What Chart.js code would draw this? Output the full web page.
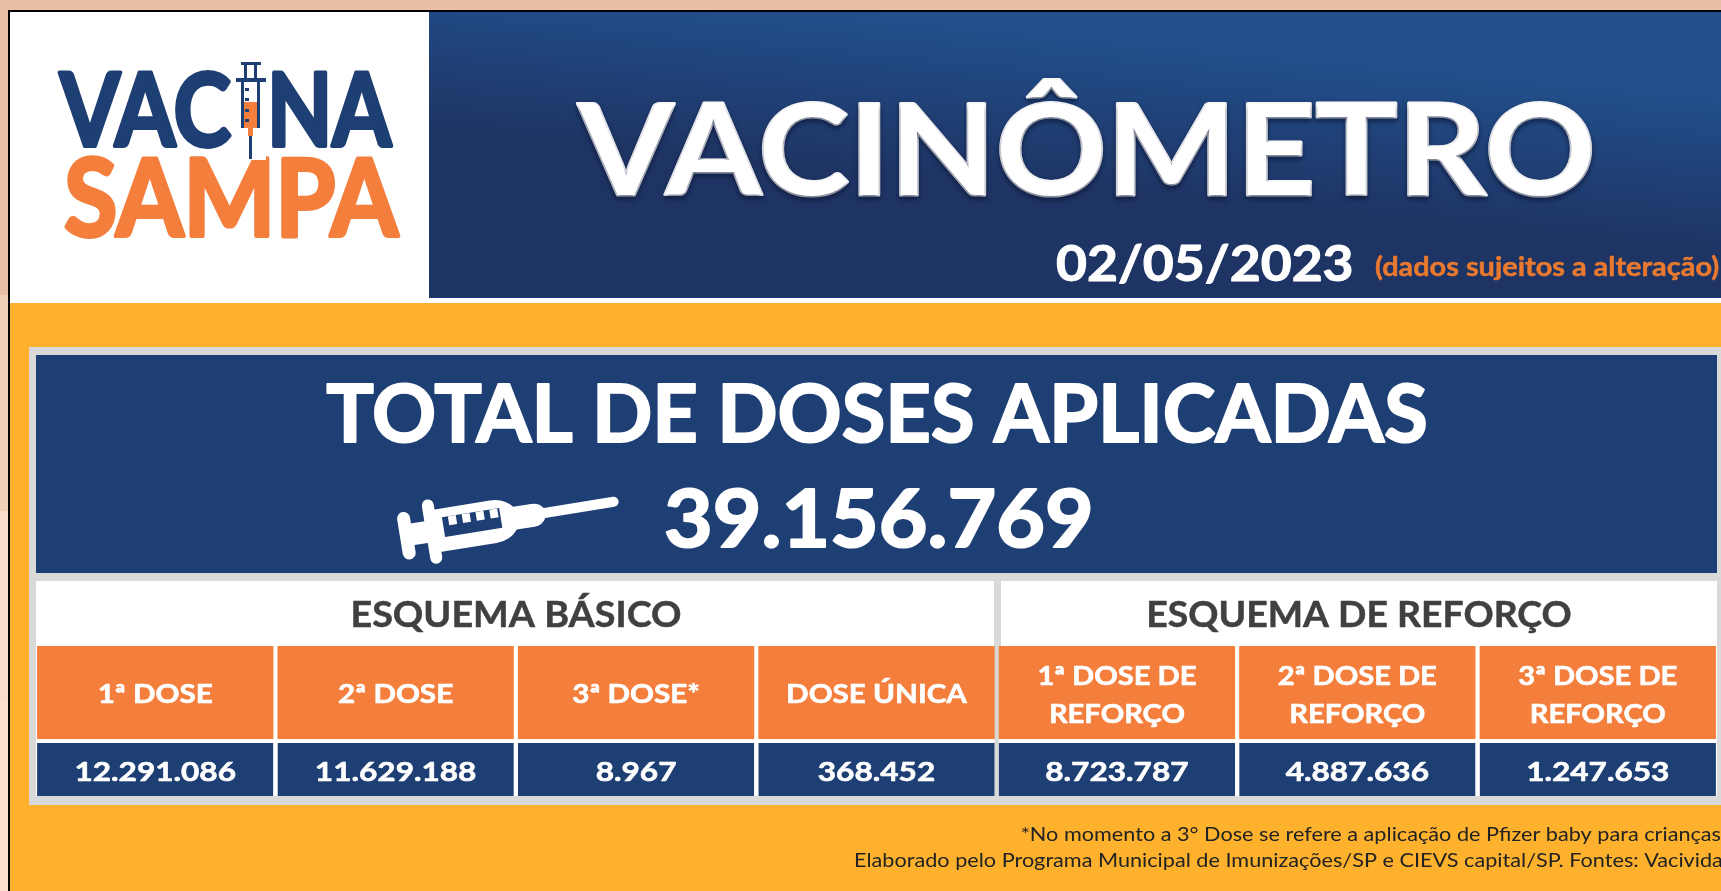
<!DOCTYPE html>
<html>
<head>
<meta charset="utf-8">
<script src="https://cdn.jsdelivr.net/npm/chart.js@4"></script>
<style>
html, body { margin: 0; padding: 0; background: #E9C0A4; overflow: hidden; }
canvas { display: block; }
</style>
</head>
<body>
<canvas id="myChart" width="1721" height="891"></canvas>
<script>
const doseLabels = [['1ª DOSE'], ['2ª DOSE'], ['3ª DOSE*'], ['DOSE ÚNICA'], ['1ª DOSE DE', 'REFORÇO'], ['2ª DOSE DE', 'REFORÇO'], ['3ª DOSE DE', 'REFORÇO']];
const doseValues = ['12.291.086', '11.629.188', '8.967', '368.452', '8.723.787', '4.887.636', '1.247.653'];
const groupLabels = ['ESQUEMA BÁSICO', 'ESQUEMA DE REFORÇO'];
const totalLabel = 'TOTAL DE DOSES APLICADAS';
const totalValue = '39.156.769';
const pageTitle = 'VACINÔMETRO';
const pageDate = '02/05/2023';
const pageDateNote = '(dados sujeitos a alteração)';
const footNotes = ['*No momento a 3° Dose se refere a aplicação de Pfizer baby para crianças', 'Elaborado pelo Programa Municipal de Imunizações/SP e CIEVS capital/SP. Fontes: Vacivida'];

const NAVY = '#1E3F73';
const ORANGE = '#F47E3C';
const YELLOW = '#FDB12D';
const GREY = '#D9D9D9';
const FONT = 'Lato, sans-serif';

// sx estica o texto na horizontal, stroke engrossa (a fonte original e mais pesada)
function txt(c, s, x, y, size, color, align, weight, sx, stroke) {
    c.save();
    c.font = (weight || 'bold') + ' ' + size + 'px ' + FONT;
    c.fillStyle = color;
    c.textAlign = align || 'center';
    c.textBaseline = 'alphabetic';
    c.translate(x, y);
    c.scale(sx || 1, 1);
    if (stroke) {
        c.strokeStyle = color;
        c.lineWidth = stroke;
        c.lineJoin = 'round';
        c.strokeText(s, 0, 0);
    }
    c.fillText(s, 0, 0);
    c.restore();
}

function drawLogo(c) {
    c.fillStyle = '#fff';
    c.fillRect(10, 12, 419, 291);
    txt(c, 'VAC', 231, 146, 101, NAVY, 'right', 'bold', 0.86, 4);
    txt(c, 'NA', 267, 146, 101, NAVY, 'left', 'bold', 0.84, 4);
    txt(c, 'SAMPA', 231, 236, 108, ORANGE, 'center', 'bold', 0.9, 4);
    // seringa do logo
    c.fillStyle = '#fff';
    c.fillRect(234, 60, 32, 100);
    c.fillStyle = NAVY;
    c.fillRect(241, 62, 20, 3);
    c.fillRect(244, 65, 3, 14);
    c.fillRect(254, 65, 3, 14);
    c.fillRect(236, 78, 30, 4);
    c.fillRect(241, 82, 3, 46);
    c.fillRect(257, 82, 3, 46);
    c.fillRect(249, 128, 3, 31);
    c.fillStyle = ORANGE;
    c.fillRect(244, 102, 13, 26);
    c.fillRect(248, 128, 5, 8);
    c.fillStyle = NAVY;
    [88, 98, 109, 119].forEach(function (y) {
        c.fillRect(245, y, 4, 3);
    });
}

function drawHeader(c) {
    const g = c.createLinearGradient(1075, 30, 1060, 190);
    g.addColorStop(0, '#22508D');
    g.addColorStop(1, '#1E3464');
    c.fillStyle = g;
    c.fillRect(429, 12, 1292, 286);
    c.fillStyle = '#fff';
    c.fillRect(429, 298, 1292, 5);
    c.save();
    c.shadowColor = 'rgba(10,20,50,0.6)';
    c.shadowBlur = 5;
    c.shadowOffsetY = 3;
    txt(c, pageTitle, 1087, 195, 126, '#fff', 'center', 'bold', 1.09, 3);
    c.restore();
    txt(c, pageDate, 1056, 281, 49, '#fff', 'left', 'bold', 1.09, 1);
    txt(c, pageDateNote, 1375, 276, 27, '#E8792F', 'left', 'bold', 1.07, 0.5);
}

function drawSyringe(c) {
    c.save();
    c.translate(507, 519);
    c.rotate(-0.16);
    c.fillStyle = '#fff';
    c.lineCap = 'round';
    c.strokeStyle = '#fff';
    c.lineWidth = 13;
    c.beginPath(); c.moveTo(-102, -17); c.lineTo(-102, 18); c.stroke();
    c.lineWidth = 12;
    c.beginPath(); c.moveTo(-76, -26); c.lineTo(-76, 27); c.stroke();
    c.fillRect(-102, -11, 28, 22);
    c.beginPath();
    c.moveTo(-76, -21);
    c.lineTo(-14, -21);
    c.quadraticCurveTo(0, -21, 8, -11);
    c.lineTo(26, -11);
    c.quadraticCurveTo(34, -11, 38, -5);
    c.lineTo(108, -5);
    c.arc(108, 0, 5, -Math.PI / 2, Math.PI / 2);
    c.lineTo(38, 5);
    c.quadraticCurveTo(34, 12, 26, 12);
    c.lineTo(8, 12);
    c.quadraticCurveTo(0, 22, -14, 22);
    c.lineTo(-76, 22);
    c.closePath();
    c.fill();
    c.fillStyle = NAVY;
    c.fillRect(-64, -12, 58, 20);
    c.fillStyle = '#fff';
    [-58, -44, -30, -16].forEach(function (x) {
        c.fillRect(x, -12, 8, 9);
    });
    c.restore();
}

const panelPlugin = {
    id: 'panelPlugin',
    beforeDatasetsDraw(chart) {
        const c = chart.ctx;
        // moldura e fundo
        c.fillStyle = '#E9C0A4';
        c.fillRect(0, 0, 1721, 891);
        c.fillStyle = '#F3D0B8';
        c.fillRect(0, 295, 8, 216);
        c.fillStyle = '#F9DCC9';
        c.fillRect(0, 511, 8, 189);
        c.fillStyle = '#FBE0D0';
        c.fillRect(0, 700, 8, 191);
        c.fillStyle = '#000';
        c.fillRect(8, 10, 1713, 881);
        c.fillStyle = YELLOW;
        c.fillRect(10, 12, 1711, 879);
        drawHeader(c);
        drawLogo(c);
        // painel cinza
        c.fillStyle = GREY;
        c.fillRect(29, 347, 1692, 458);
        c.fillStyle = NAVY;
        c.fillRect(36, 355, 1681, 218);
        txt(c, totalLabel, 877, 442, 81, '#fff', 'center', 'bold', 0.98, 2);
        txt(c, totalValue, 664, 547, 80, '#fff', 'left', 'bold', 1.05, 2);
        drawSyringe(c);
        c.fillStyle = '#fff';
        c.fillRect(36, 581, 958, 215);
        c.fillRect(1001, 581, 716, 215);
        txt(c, groupLabels[0], 516, 627, 37, '#404040', 'center', 'bold', 1.02, 0.5);
        txt(c, groupLabels[1], 1359, 627, 37, '#404040', 'center', 'bold', 1.01, 0.5);
    },
    afterDatasetsDraw(chart) {
        const c = chart.ctx;
        const valueBars = chart.getDatasetMeta(0).data;
        const headerBars = chart.getDatasetMeta(1).data;
        doseLabels.forEach(function (lines, i) {
            const x = headerBars[i].x;
            if (lines.length === 1) {
                txt(c, lines[0], x, 703, 26, '#fff', 'center', 'bold', 1.14, 0.6);
            } else {
                txt(c, lines[0], x, 685, 26, '#fff', 'center', 'bold', 1.12, 0.6);
                txt(c, lines[1], x, 723, 26, '#fff', 'center', 'bold', 1.12, 0.6);
            }
            txt(c, doseValues[i], valueBars[i].x, 781, 27, '#fff', 'center', 'bold', 1.17, 0.6);
        });
        txt(c, footNotes[0], 1721, 841, 19, '#222', 'right', 'normal', 1.14);
        txt(c, footNotes[1], 854, 867, 19, '#222', 'left', 'normal', 1.14);
    }
};

const valueRowSpan = 0.57;
const headerRowSpan = 0.93;

new Chart(document.getElementById('myChart'), {
    type: 'bar',
    data: {
        labels: doseLabels.map(function (l) { return l.join(' '); }),
        datasets: [
            {
                label: 'Doses',
                data: doseValues.map(function () { return valueRowSpan; }),
                backgroundColor: NAVY,
                borderColor: '#fff',
                borderWidth: { top: 4, right: 0, bottom: 0, left: 0 },
                borderSkipped: false
            },
            {
                label: 'Tipo de dose',
                data: doseLabels.map(function () { return headerRowSpan; }),
                backgroundColor: ORANGE
            }
        ]
    },
    options: {
        responsive: false,
        animation: false,
        layout: { padding: { left: 35, right: 3, top: 646, bottom: 95 } },
        datasets: { bar: { barPercentage: 1, categoryPercentage: 0.983 } },
        scales: {
            x: { stacked: true, display: false },
            y: { stacked: true, display: false, min: 0, max: valueRowSpan + headerRowSpan }
        },
        plugins: {
            legend: { display: false },
            tooltip: { enabled: false }
        }
    },
    plugins: [panelPlugin]
});
</script>
</body>
</html>
